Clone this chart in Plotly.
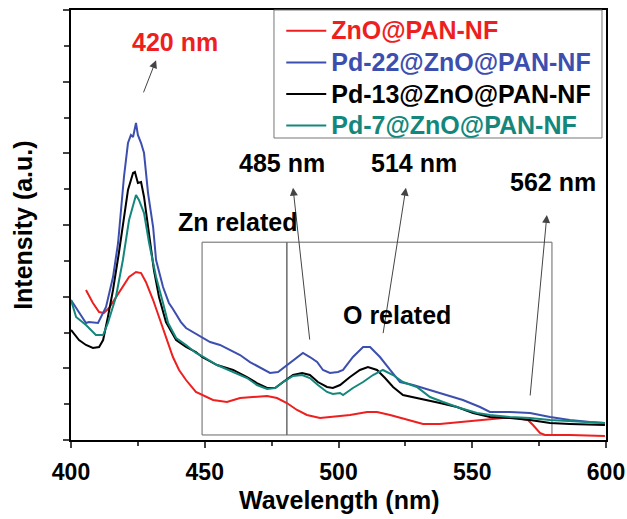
import plotly.graph_objects as go

# ---- data ----
wl_pd22 = [400, 405.6, 406.7, 410.1, 413.1, 415.7, 417.6, 418.7, 419.8, 421.3, 422.4, 423.2, 424.3, 425.0,
           426.2, 427.3, 428.8, 430.7, 431.8, 434.4, 436.6, 438.1, 441.1, 443.0, 445.6, 449.3, 452.0, 455.7,
           459.4, 463.2, 466.9, 470.7, 474.4, 477.4, 480.7, 484.5, 486.7, 489.3, 492.0, 494.2, 496.8, 499.8,
           501.7, 505.4, 509.2, 511.8, 515.5, 519.3, 523.0, 527.9, 534.2, 540.6, 546.5, 552.9, 556.6, 564.1,
           571.6, 579.1, 586.5, 594.0, 599.6]
int_pd22 = [1.953, 1.632, 1.646, 1.632, 1.856, 2.274, 2.749, 3.209, 3.670, 4.144, 4.256, 4.228, 4.423, 4.256,
            4.144, 4.004, 3.446, 2.972, 2.512, 2.135, 1.912, 1.828, 1.646, 1.563, 1.507, 1.423, 1.367, 1.326,
            1.256, 1.186, 1.088, 1.005, 0.935, 0.949, 1.046, 1.158, 1.214, 1.158, 1.088, 0.977, 0.935, 0.949,
            0.977, 1.158, 1.298, 1.298, 1.158, 0.977, 0.809, 0.767, 0.698, 0.628, 0.558, 0.460, 0.391, 0.391,
            0.377, 0.321, 0.279, 0.251, 0.237]

wl_pd13 = [400, 403.0, 405.6, 408.2, 410.5, 412.0, 413.8, 415.7, 417.9, 419.8, 421.3, 423.2, 423.9, 425.0,
           426.2, 427.3, 429.2, 431.0, 432.9, 435.5, 439.3, 443.0, 446.7, 449.0, 454.6, 460.6, 465.8, 469.5,
           473.3, 476.3, 479.3, 483.0, 486.4, 489.3, 492.3, 495.7, 497.9, 500.6, 504.3, 508.0, 511.0, 514.4,
           517.4, 520.4, 524.1, 527.9, 533.1, 537.9, 544.3, 550.3, 556.6, 564.1, 571.6, 579.1, 586.5, 594.0,
           599.6]
int_pd13 = [1.535, 1.395, 1.326, 1.284, 1.298, 1.395, 1.716, 2.093, 2.609, 3.070, 3.488, 3.725, 3.739, 3.586,
            3.600, 3.391, 2.832, 2.372, 1.995, 1.646, 1.395, 1.298, 1.228, 1.158, 1.046, 0.977, 0.879, 0.795,
            0.726, 0.726, 0.809, 0.907, 0.935, 0.907, 0.809, 0.740, 0.726, 0.767, 0.879, 0.977, 1.019, 0.977,
            0.865, 0.740, 0.628, 0.600, 0.558, 0.516, 0.460, 0.377, 0.321, 0.307, 0.279, 0.237, 0.223, 0.209,
            0.209]

wl_pd7 = [400, 401.9, 405.6, 409.3, 412.0, 413.8, 416.8, 419.4, 421.7, 424.3, 425.4, 427.3, 429.2, 431.8,
          434.4, 436.3, 439.3, 443.0, 446.7, 449.0, 454.6, 460.6, 465.8, 469.5, 473.3, 476.3, 479.3, 483.0,
          486.4, 489.3, 492.3, 495.7, 497.9, 500.6, 501.7, 505.4, 509.2, 512.9, 516.6, 520.4, 524.1, 529.3,
          534.2, 539.1, 545.4, 551.8, 556.6, 564.1, 571.6, 579.1, 586.5, 594.0, 599.6]
int_pd7 = [1.953, 1.716, 1.605, 1.465, 1.465, 1.632, 1.995, 2.512, 3.070, 3.418, 3.349, 3.167, 2.749, 2.274,
           1.912, 1.632, 1.423, 1.326, 1.214, 1.172, 1.046, 0.949, 0.865, 0.767, 0.712, 0.726, 0.809, 0.893,
           0.907, 0.865, 0.767, 0.670, 0.642, 0.656, 0.628, 0.726, 0.809, 0.907, 0.977, 0.907, 0.809, 0.740,
           0.600, 0.530, 0.446, 0.377, 0.349, 0.321, 0.307, 0.279, 0.265, 0.251, 0.237]

wl_zno = [405.6, 408.2, 410.5, 412.3, 414.2, 416.8, 419.4, 421.7, 424.3, 426.2, 428.0, 430.7, 432.9, 435.5,
          438.1, 440.4, 443.0, 446.7, 449.0, 453.1, 458.3, 463.2, 468.0, 473.3, 477.0, 480.7, 484.5, 488.2,
          493.1, 496.8, 504.3, 510.7, 514.4, 519.3, 525.6, 531.6, 537.9, 546.5, 552.9, 555.5, 561.5, 566.7,
          570.8, 572.7, 575.3, 577.2, 586.5, 599.6]
int_zno = [2.093, 1.912, 1.786, 1.772, 1.842, 1.995, 2.135, 2.274, 2.344, 2.330, 2.205, 1.953, 1.716, 1.437,
           1.158, 0.977, 0.837, 0.670, 0.628, 0.558, 0.530, 0.586, 0.600, 0.614, 0.586, 0.516, 0.419, 0.349,
           0.307, 0.321, 0.349, 0.391, 0.391, 0.349, 0.279, 0.223, 0.223, 0.251, 0.279, 0.279, 0.307, 0.307,
           0.279, 0.209, 0.098, 0.070, 0.070, 0.056]

series_names = ["ZnO@PAN-NF", "Pd-22@ZnO@PAN-NF", "Pd-13@ZnO@PAN-NF", "Pd-7@ZnO@PAN-NF"]
series_colors = ["#ee1f1f", "#3c4fae", "#000000", "#14877c"]
series_x = [wl_zno, wl_pd22, wl_pd13, wl_pd7]
series_y = [int_zno, int_pd22, int_pd13, int_pd7]

x_ticks = [400, 450, 500, 550, 600]

# peak labels: (text, text x, text y, arrow head x, head y, tail x, tail y, color)
peak_labels = [
    ("420 nm", 438.9, 5.55, 431.8, 5.30, 426.9, 4.83, "#ee1f1f"),
    ("485 nm", 478.9, 3.87, 483.0, 3.52, 489.3, 1.38, "#000000"),
    ("514 nm", 528.2, 3.87, 525.2, 3.52, 516.6, 1.47, "#000000"),
    ("562 nm", 580.2, 3.60, 577.9, 3.14, 571.6, 0.60, "#000000"),
]
region_labels = [("Zn related", 462.1, 3.04), ("O related", 521.9, 1.74)]
region_boxes = [(449.0, 480.7, 0.07, 2.76), (480.7, 579.8, 0.07, 2.76)]

FONT = "Liberation Sans, Arial, sans-serif"

fig = go.Figure()
for i, (nm, col, xs, ys) in enumerate(zip(series_names, series_colors, series_x, series_y)):
    fig.add_trace(go.Scatter(
        x=xs, y=ys, mode="lines", line=dict(color=col, width=2),
        name=f'<span style="color:{col};font-size:25px">{nm}</span>',
    ))

for (x0, x1, y0, y1) in region_boxes:
    fig.add_shape(type="rect", xref="x", yref="y", x0=x0, x1=x1, y0=y0, y1=y1,
                  line=dict(color="#666666", width=1), layer="below")

# legend frame
fig.add_shape(type="rect", xref="paper", yref="paper", x0=0.3794, x1=0.9925, y0=0.7023, y1=1.0,
              line=dict(color="#777777", width=1))

for (t, tx, ty, hx, hy, sx, sy, col) in peak_labels:
    fig.add_annotation(x=tx, y=ty, text=t, showarrow=False, xref="x", yref="y",
                       font=dict(family=FONT, size=25, color=col, weight="bold"))
    fig.add_annotation(x=hx, y=hy, ax=sx, ay=sy, xref="x", yref="y", axref="x", ayref="y",
                       text="", showarrow=True, arrowhead=2, arrowsize=1.6, arrowwidth=1,
                       arrowcolor="#444444")

for (t, tx, ty) in region_labels:
    fig.add_annotation(x=tx, y=ty, text=t, showarrow=False, xref="x", yref="y",
                       font=dict(family=FONT, size=25, color="#000000", weight="bold"))

# axis titles
fig.add_annotation(x=0.5, y=-0.14, xref="paper", yref="paper", text="Wavelength (nm)",
                   showarrow=False, xanchor="center", yanchor="middle",
                   font=dict(family=FONT, size=25, color="#000", weight="bold"))
fig.add_annotation(x=-0.09, y=0.5, xref="paper", yref="paper", text="Intensity (a.u.)",
                   showarrow=False, xanchor="center", yanchor="middle", textangle=-90,
                   font=dict(family=FONT, size=25, color="#000", weight="bold"))

fig.update_layout(
    width=627, height=519,
    margin=dict(l=71, r=21, t=10, b=79, autoexpand=False),
    plot_bgcolor="white", paper_bgcolor="white",
    showlegend=True,
    legend=dict(x=0.393, y=1.0, xanchor="left", yanchor="top",
                borderwidth=0, bgcolor="rgba(255,255,255,0)",
                font=dict(family=FONT, size=22, color="#000", weight="bold"),
                itemwidth=40),
    font=dict(family=FONT),
)
fig.update_xaxes(range=[400, 600], tickvals=x_ticks, ticks="outside", ticklen=6, tickwidth=2,
                 showline=True, linewidth=2, linecolor="black", mirror=True, showgrid=False,
                 zeroline=False, ticklabelstandoff=4, automargin=False,
                 tickfont=dict(family=FONT, size=23, color="black", weight="bold"),
                 minor=dict(tickvals=[425, 475, 525, 575], ticks="outside", ticklen=4, tickwidth=2))
fig.update_yaxes(range=[0, 6], dtick=1, ticks="outside", ticklen=6, tickwidth=1.5, automargin=False,
                 showticklabels=False, showline=True, linewidth=2, linecolor="black", mirror=True,
                 showgrid=False, zeroline=False,
                 minor=dict(dtick=0.5, ticks="outside", ticklen=5, tickwidth=1.5))

fig.write_html("out.html")
